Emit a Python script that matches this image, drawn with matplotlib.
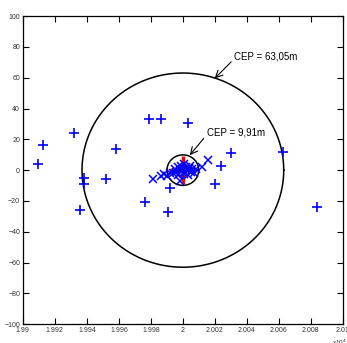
import numpy as np
import matplotlib.pyplot as plt
from matplotlib.ticker import FuncFormatter, MultipleLocator

plt.rcParams['font.family'] = ['Liberation Sans', 'DejaVu Sans']

# outliers (plus markers)
plus_x = [19909.2, 19912.7, 19931.8, 19938.2, 19938.2, 19935.7, 19952.0, 19957.9,
          19979.0, 19986.5, 20003.0, 19992.2, 19976.5, 19990.7,
          20029.8, 20024.1, 20020.0, 20062.8, 20083.7]
plus_y = [4.1, 16.2, 24.2, -5.4, -9.3, -26.0, -5.8, 13.4,
          33.1, 33.1, 30.3, -11.9, -20.6, -27.0,
          11.2, 2.6, -8.7, 11.5, -23.8]

# inner points (x markers)
cross_x = [19981.5, 19988.0, 19990.0, 19992.0, 19998.4, 20012.0, 20015.8,
           19995.0, 19996.0, 19997.0, 19998.0, 19999.0, 20000.0, 20001.0,
           20002.0, 20003.0, 20004.0, 20005.0, 20006.0, 20007.0, 20003.0,
           19997.0, 20001.0, 19994.0, 20008.0, 19986.5, 20000.5, 20004.5]
cross_y = [-5.5, -2.2, -4.0, -2.0, -7.1, 2.3, 6.9,
           1.0, -1.0, 2.0, 0.0, 3.0, 1.0, -1.0,
           2.0, 0.0, 1.5, -1.5, 0.5, -2.0, -3.0,
           -3.0, 4.0, -2.0, 1.0, -3.5, -2.5, 3.0]

center = (20000.0, 0.0)
err_x, err_y = 8.9, 8.9
cep_small = 9.91
cep_big = 63.05

fig = plt.figure(figsize=(3.47, 3.43), dpi=100)
ax = fig.add_axes([0.066, 0.055, 0.922, 0.898])

t = np.linspace(0, 2 * np.pi, 400)
ax.plot(center[0] + cep_big * np.cos(t), center[1] + cep_big * np.sin(t), color='black', lw=1.1)
ax.plot(center[0] + cep_small * np.cos(t), center[1] + cep_small * np.sin(t), color='black', lw=1.1)

ax.errorbar([center[0]], [center[1]], xerr=err_x, yerr=err_y, fmt='none', ecolor='red', elinewidth=2.5, capsize=0)

ax.plot(plus_x, plus_y, '+', color='blue', ms=7, mew=1.2, linestyle='none')
ax.plot(cross_x, cross_y, 'x', color='blue', ms=5.5, mew=1.1, linestyle='none')

arrow = dict(arrowstyle='->, head_length=0.5, head_width=0.25', color='black', lw=0.8, shrinkA=0, shrinkB=0)
ax.annotate('', xy=(20019.9, 59.5), xytext=(20030.2, 70.3), arrowprops=arrow)
ax.text(20031.7, 74, 'CEP = 63,05m', fontsize=7, ha='left', va='center')
ax.annotate('', xy=(20004.3, 9.7), xytext=(20013.0, 20.6), arrowprops=arrow)
ax.text(20015.2, 24.2, 'CEP = 9,91m', fontsize=7, ha='left', va='center')

ax.set_xlim(19900, 20100)
ax.set_ylim(-100, 100)
ax.xaxis.set_major_locator(MultipleLocator(20))
ax.yaxis.set_major_locator(MultipleLocator(20))
ax.xaxis.set_major_formatter(FuncFormatter(lambda v, p: '%g' % round(v / 1e4, 4)))
ax.tick_params(direction='in', length=4, width=0.8, top=True, right=True,
               labelsize=5, labelcolor='#333333', pad=2)
for s in ax.spines.values():
    s.set_linewidth(0.9)
ax.text(0.99, -0.045, r'x10$^4$', transform=ax.transAxes, fontsize=4.5, color='#333333', ha='center', va='top')

fig.savefig('out.png', dpi=100)
